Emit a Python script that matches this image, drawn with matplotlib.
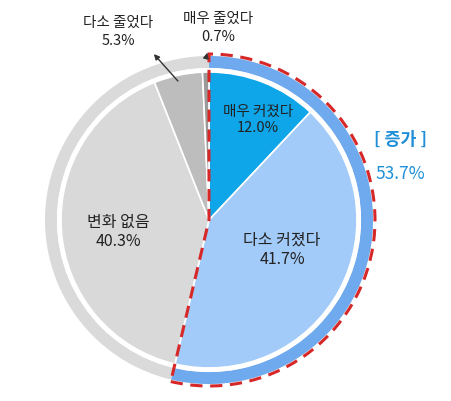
import matplotlib.pyplot as plt
from matplotlib.patches import Wedge, Circle
import numpy as np

plt.rcParams['font.family'] = ['Noto Sans CJK KR', 'DejaVu Sans']

labels = ["매우 커졌다", "다소 커졌다", "변화 없음", "다소 줄었다", "매우 줄었다"]
values = [12.0, 41.7, 40.3, 5.3, 0.7]
colors = ["#0EA5E9", "#A3CBF9", "#D9D9D9", "#BDBDBD", "#9A9A9A"]
increase_total = 53.7

cx, cy = 209, 401 - 220
r_pie, r_in, r_out = 148, 152, 164

fig = plt.figure(figsize=(4.51, 4.01), dpi=100)
ax = fig.add_axes([0, 0, 1, 1])
ax.set_xlim(0, 451)
ax.set_ylim(0, 401)
ax.set_aspect('equal')
ax.axis('off')

# outer ring: gray base + blue increase part
ax.add_patch(Wedge((cx, cy), r_out, 0, 360, width=r_out - r_in, color="#DADADA", lw=0))
inc_end = 90 - increase_total * 3.6
ax.add_patch(Wedge((cx, cy), r_out, inc_end, 90, width=r_out - r_in, color="#6FAAEE", lw=0))

# inner pie
start = 90
mids = []
for v, c in zip(values, colors):
    t2 = start
    t1 = start - v * 3.6
    ax.add_patch(Wedge((cx, cy), r_pie, t1, t2, facecolor=c, edgecolor="white", lw=1.2))
    mids.append((t1 + t2) / 2)
    start = t1
ax.add_patch(Circle((cx, cy), (r_pie + r_in) / 2, fill=False, ec="white", lw=3))

# red dashed outline of the increase share
ax.add_patch(Wedge((cx, cy), r_out + 2, inc_end, 90, fill=False, ec="#D62828",
                   lw=2.2, ls=(0, (4, 2.5))))

def pt(r, ang):
    a = np.deg2rad(ang)
    return cx + r * np.cos(a), cy + r * np.sin(a)

tk = dict(ha="center", va="center", fontsize=10.5, color="#222222", fontweight="medium")
ax.text(258, 401 - 120, f"{labels[0]}\n{values[0]:.1f}%", linespacing=1.2, **tk)
ax.text(282, 401 - 250, f"{labels[1]}\n{values[1]:.1f}%", linespacing=1.2, fontsize=11.5,
        ha="center", va="center", color="#222222", fontweight="medium")
ax.text(118, 401 - 232, f"{labels[2]}\n{values[2]:.1f}%", linespacing=1.2, fontsize=11.5,
        ha="center", va="center", color="#222222", fontweight="medium")

# small slices with arrows
ax.text(118, 401 - 32, f"{labels[3]}\n{values[3]:.1f}%", linespacing=1.3, **tk)
ax.annotate("", xy=(152, 401 - 52), xytext=pt(r_pie - 8, mids[3]),
            arrowprops=dict(arrowstyle="-|>", color="#333333", lw=1, mutation_scale=8))
ax.text(218, 401 - 28, f"{labels[4]}\n{values[4]:.1f}%", linespacing=1.3, **tk)
ax.annotate("", xy=(cx - 1, 401 - 50), xytext=pt(r_out - 4, mids[4]),
            arrowprops=dict(arrowstyle="-|>", color="#333333", lw=1, mutation_scale=8))

ax.text(400, 401 - 140, "[ 증가 ]", ha="center", va="center", fontsize=12.5,
        color="#1E8FD8", fontweight="bold")
ax.text(400, 401 - 174, f"{increase_total:.1f}%", ha="center", va="center", fontsize=12.5,
        color="#1E8FD8", fontweight="medium")

fig.savefig("out.png", dpi=100)
